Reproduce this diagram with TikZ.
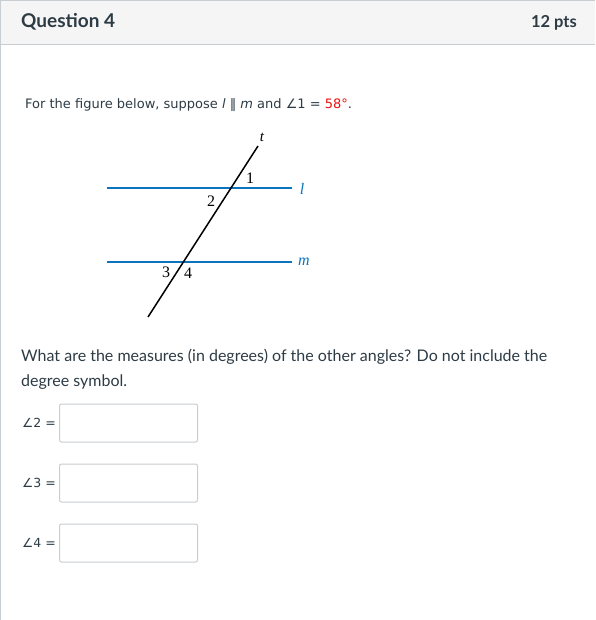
\documentclass[tikz,border=0pt]{standalone}
\usepackage{fontspec}
\setmainfont{Lato}
\newfontfamily\verdana{DejaVu Sans}
\newfontfamily\figfont{Liberation Serif}
\usetikzlibrary{calc}

\definecolor{canvastext}{HTML}{2D3B45}
\definecolor{headfill}{HTML}{F5F5F5}
\definecolor{rulegray}{HTML}{C7CDD1}
\definecolor{lineblue}{HTML}{0B74BD}
\definecolor{answerred}{HTML}{E8100F}

\tikzstyle{parline}=[draw=lineblue,
                     line width=1.6pt]
\tikzstyle{transline}=[draw=black,
                       line width=1.5pt]
\tikzstyle{anglelabel}=[font=\figfont\fontsize{16}{16}\selectfont,
                        inner sep=0pt]
\tikzstyle{linelabel}=[font=\figfont\itshape\fontsize{16}{16}\selectfont,
                       text=lineblue,
                       inner sep=0pt]
\tikzstyle{answerbox}=[draw=rulegray,
                       line width=1pt,
                       rounded corners=2pt,
                       minimum width=138pt,
                       minimum height=38pt,
                       anchor=west,
                       inner sep=0pt]
\tikzstyle{boxlabel}=[font=\verdana\fontsize{12.5}{12.5}\selectfont,
                      text=canvastext,
                      anchor=east,
                      inner sep=0pt]

\begin{document}
\begin{tikzpicture}[x=1pt,y=-1pt]
    \useasboundingbox (0,0) rectangle (595,620);
    % header
    \fill [headfill] (0,0) rectangle (595,45);
    \draw [rulegray, line width=1.5pt] (0,45) -- (0,0) -- (595,0);
    \draw [rulegray, line width=1pt] (0,45) -- (595,45);
    \draw [rulegray, line width=1.5pt] (0,45) -- (0,620);
    \node [anchor=base west, inner sep=0pt, text=canvastext,
           font=\bfseries\fontsize{19}{19}\selectfont] (title) at (21,28) {Question 4};
    \node [anchor=base east, inner sep=0pt, text=canvastext,
           font=\bfseries\fontsize{16.5}{16.5}\selectfont] (points) at (577,28) {12 pts};

    % prompt
    \node [anchor=base west, inner sep=0pt, text=canvastext,
           font=\verdana\fontsize{13}{13}\selectfont] (prompt) at (25,109)
        {For the figure below, suppose \textit{l} ‖ \textit{m} and ∠1 = \textcolor{answerred}{58°}.};

    % figure
    \coordinate (lstart) at (107,188);
    \coordinate (lend) at (292,188);
    \coordinate (mstart) at (107,262);
    \coordinate (mend) at (292,262);
    \coordinate (tstart) at (148,317);
    \coordinate (tend) at (258,146);
    \draw [parline] (lstart) -- (lend);
    \draw [parline] (mstart) -- (mend);
    \draw [transline] (tstart) -- (tend);
    \node [linelabel] (lname) at (302,189) {l};
    \node [linelabel] (mname) at (304,262) {m};
    \node [anglelabel, font=\figfont\itshape\fontsize{15}{15}\selectfont] (tname) at (262,137) {t};
    \node [anglelabel] (one) at (250,178) {1};
    \node [anglelabel] (two) at (211,201) {2};
    \node [anglelabel] (three) at (166,272) {3};
    \node [anglelabel] (four) at (188,273) {4};

    % question
    \node [anchor=base west, inner sep=0pt, text=canvastext,
           font=\fontsize{16}{16}\selectfont] (question) at (21,361)
        {What are the measures (in degrees) of the other angles? Do not include the};
    \node [anchor=base west, inner sep=0pt, text=canvastext,
           font=\fontsize{16}{16}\selectfont] (questiontwo) at (21,386)
        {degree symbol.};

    % answers
    \node [answerbox] (boxtwo) at (59,423) {};
    \node [answerbox] (boxthree) at (59,483) {};
    \node [answerbox] (boxfour) at (59,543) {};
    \node [boxlabel] (labtwo) at ([xshift=-3pt]boxtwo.west) {∠2 =};
    \node [boxlabel] (labthree) at ([xshift=-3pt]boxthree.west) {∠3 =};
    \node [boxlabel] (labfour) at ([xshift=-3pt]boxfour.west) {∠4 =};
\end{tikzpicture}
\end{document}
